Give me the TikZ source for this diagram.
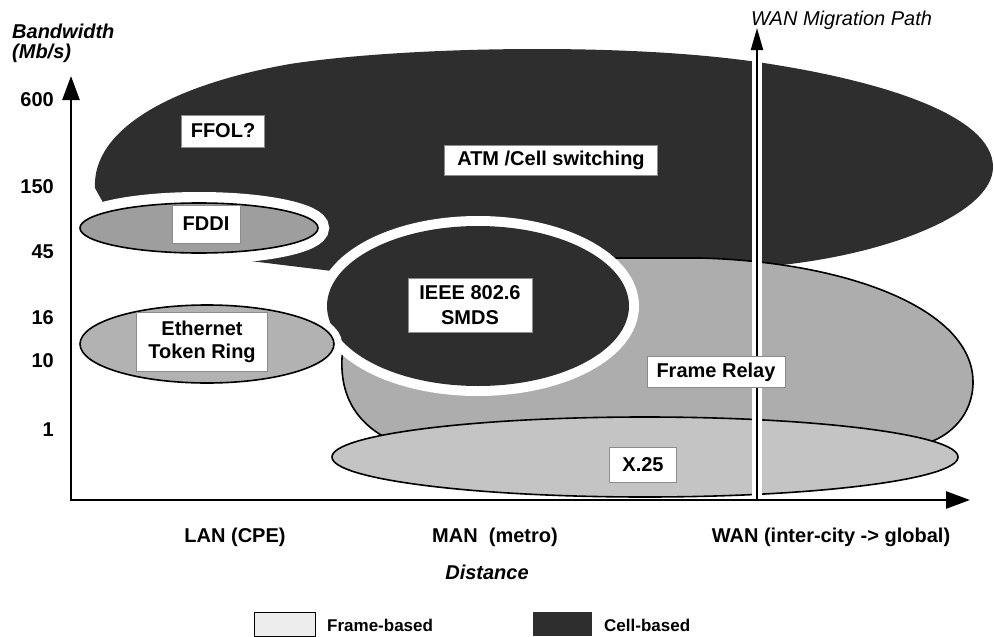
\documentclass[tikz,border=0pt]{standalone}
\usepackage{fontspec}
\setmainfont{Liberation Sans}
\usetikzlibrary{arrows.meta}
\definecolor{cellc}{gray}{0.18}
\definecolor{frc}{gray}{0.68}
\definecolor{xtc}{gray}{0.77}
\definecolor{fddic}{gray}{0.62}
\definecolor{ethc}{gray}{0.70}
\definecolor{legfc}{gray}{0.93}
\begin{document}
\begin{tikzpicture}[x=1pt,y=-1pt,
  lbl/.style={fill=white, draw=black!45, line width=0.4pt, inner sep=0pt, align=center,
    font=\fontsize{20}{25}\selectfont\bfseries},
  axlbl/.style={font=\fontsize{20}{24}\selectfont\bfseries, inner sep=0pt},
  ticklbl/.style={font=\fontsize{20}{24}\selectfont\bfseries, inner sep=0pt, anchor=east},
  leglbl/.style={font=\fontsize{17}{20}\selectfont\bfseries, inner sep=0pt, anchor=west},
  outl/.style={draw=black, line width=1.6pt},
  ring/.style={draw=white},
]
\useasboundingbox (0,0) rectangle (994,637);

% Cell-based ATM region
\fill[cellc] (95,188) .. controls (92,130) and (170,85) .. (290,64)
  .. controls (400,47) and (620,42) .. (757,62)
  .. controls (880,80) and (993,115) .. (993,167)
  .. controls (993,215) and (880,258) .. (760,267)
  -- (640,268) -- (480,285) -- (340,272) -- (242,260) -- (200,245) -- (110,215) -- cycle;

% Frame Relay region
\filldraw[fill=frc, outl] (700,258) .. controls (850,262) and (973,310) .. (973,382)
  .. controls (973,415) and (950,435) .. (930,442)
  -- (390,440) .. controls (360,425) and (340,400) .. (342,358)
  .. controls (345,300) and (450,260) .. (580,258) -- cycle;

% X.25 region
\filldraw[fill=xtc, outl] (645,457) ellipse [x radius=313pt, y radius=40pt];

% SMDS (cell-based) with white ring
\draw[ring, line width=20pt] (478,306) ellipse [x radius=151pt, y radius=80pt];
\fill[cellc] (478,306) ellipse [x radius=151pt, y radius=80pt];

% FDDI
\draw[ring, line width=22pt] (199,228) ellipse [x radius=119pt, y radius=25pt];
\filldraw[fill=fddic, outl] (199,228) ellipse [x radius=119pt, y radius=25pt];

% Ethernet / Token Ring
\draw[ring, line width=16pt] (207,344) ellipse [x radius=127pt, y radius=39pt];
\filldraw[fill=ethc, outl] (207,344) ellipse [x radius=127pt, y radius=39pt];

% WAN migration path
\coordinate (wanb) at (757,500);
\coordinate (wanh) at (757,55);
\coordinate (want) at (757,28);
\draw[white, line width=10pt] (wanb) -- (wanh);
\draw[line width=2pt, -{Triangle[length=22pt,width=12pt]}] (wanb) -- (want);
\node[font=\fontsize{20}{24}\selectfont\itshape, inner sep=0pt, anchor=base west] (wanlbl) at (751,25) {WAN Migration Path};

% Axes
\coordinate (ytip) at (71,76);
\coordinate (orig) at (71,500);
\coordinate (xtip) at (970,500);
\draw[line width=2.6pt, {Triangle[length=24pt,width=17pt]}-{Triangle[length=24pt,width=17pt]}] (ytip) -- (orig) -- (xtip);

% Axis titles
\node[axlbl, font=\fontsize{20}{24}\selectfont\bfseries\itshape, anchor=base west] (bw) at (12,38) {Bandwidth};
\node[axlbl, font=\fontsize{20}{24}\selectfont\bfseries\itshape, anchor=base west] (mbs) at (12,58) {(Mb/s)};
\node[axlbl, font=\fontsize{20}{24}\selectfont\bfseries\itshape] (dist) at (487,572) {Distance};

% Tick labels
\node[ticklbl] (t600) at (54,100) {600};
\node[ticklbl] (t150) at (54,187) {150};
\node[ticklbl] (t45) at (54,252) {45};
\node[ticklbl] (t16) at (54,318) {16};
\node[ticklbl] (t10) at (54,361) {10};
\node[ticklbl] (t1) at (54,430) {1};

\node[axlbl] (lan) at (235,537) {LAN (CPE)};
\node[axlbl] (man) at (495,537) {MAN~~(metro)};
\node[axlbl] (wan) at (831,537) {WAN (inter-city -> global)};

% Region labels
\node[lbl, minimum width=83pt, minimum height=32pt] (ffol) at (223,131) {FFOL?};
\node[lbl, minimum width=213pt, minimum height=30pt] (atm) at (551,160) {ATM /Cell switching};
\node[lbl, minimum width=68pt, minimum height=38pt] (fddi) at (206,224) {FDDI};
\node[lbl, minimum width=131pt, minimum height=59pt, font=\fontsize{20}{23}\selectfont\bfseries] (eth) at (202,342) {Ethernet\\Token Ring};
\node[lbl, minimum width=124pt, minimum height=54pt] (smds) at (470,305) {IEEE 802.6\\SMDS};
\node[lbl, minimum width=138pt, minimum height=31pt] (fr) at (716,372) {Frame Relay};
\node[lbl, minimum width=67pt, minimum height=35pt] (x25) at (643,465) {X.25};

% Legend
\filldraw[fill=legfc, draw=black, line width=0.8pt] (254,612) rectangle (315,636);
\node[leglbl] (legf) at (327,625) {Frame-based};
\fill[cellc] (533,612) rectangle (592,636);
\node[leglbl] (legc) at (604,625) {Cell-based};
\end{tikzpicture}
\end{document}
